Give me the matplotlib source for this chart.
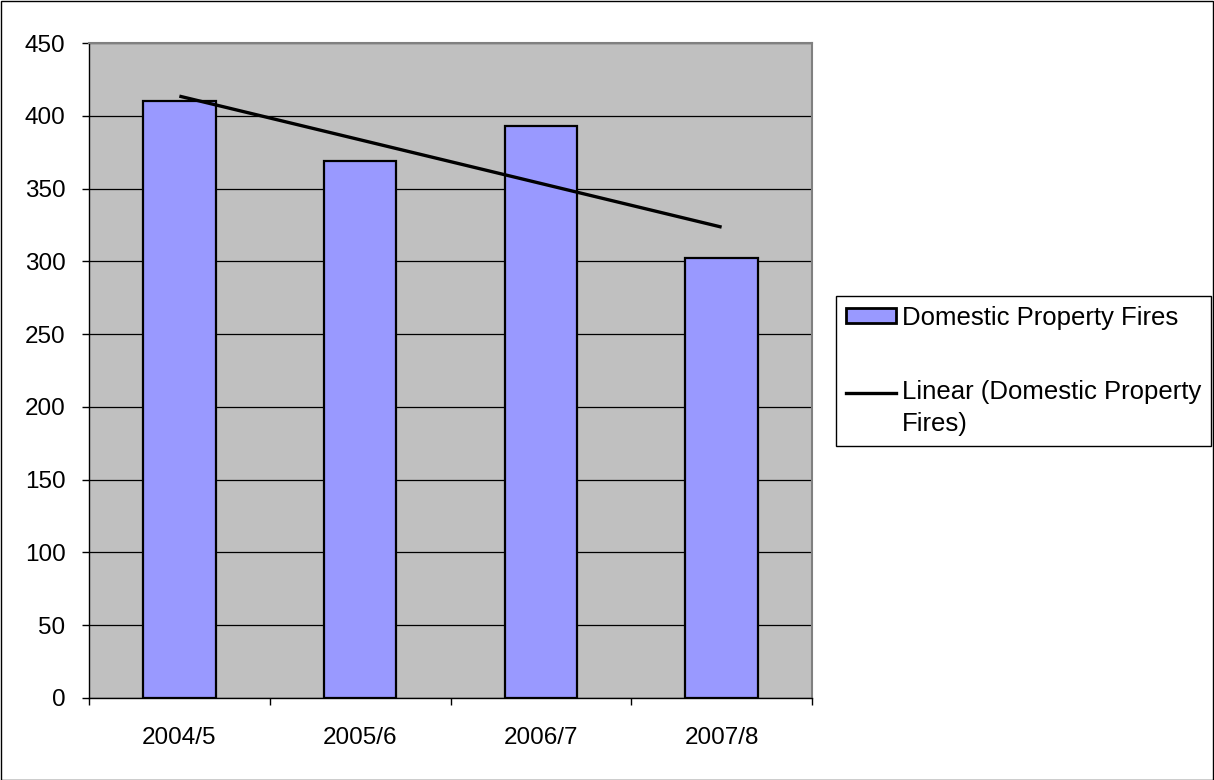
import numpy as np
import matplotlib
matplotlib.use("Agg")
import matplotlib.pyplot as plt
import matplotlib.transforms as mtransforms
from matplotlib.patches import Rectangle
from matplotlib.lines import Line2D
from matplotlib.legend_handler import HandlerLine2D

categories = ["2004/5", "2005/6", "2006/7", "2007/8"]
fires = [410, 369, 393, 302]
y_ticks = [0, 50, 100, 150, 200, 250, 300, 350, 400, 450]
bar_label = "Domestic Property Fires"
trend_label = "Linear (Domestic Property\nFires)"

plt.rcParams['font.family'] = ['Liberation Sans', 'DejaVu Sans']
FS = 17.5
LFS = 18.5
LSP = 1.42

W, H = 1214, 780
fig = plt.figure(figsize=(W / 100, H / 100), dpi=100)
ax = fig.add_axes([89 / W, 1 - 698 / H, (812 - 89) / W, (698 - 43) / H])
ax.set_facecolor('#C0C0C0')

x = np.arange(1, len(categories) + 1)
ax.set_axisbelow(True)
ax.yaxis.grid(True, color='black', linewidth=0.9)
ax.bar(x, fires, width=0.4, color='#9999FF', edgecolor='black', linewidth=1.6, zorder=2)

coef = np.polyfit(x, fires, 1)
ax.plot(x, np.polyval(coef, x), color='black', linewidth=2.4, zorder=3,
        solid_capstyle='butt')

ax.set_xlim(0.5, len(categories) + 0.5)
ax.set_ylim(0, 450)
ax.set_yticks(y_ticks)
ax.set_yticklabels([str(v) for v in y_ticks], fontsize=FS)
ax.tick_params(axis='y', length=5, width=1, pad=12, colors='black')

ax.set_xticks(np.arange(0.5, len(categories) + 1, 1))
ax.set_xticklabels([])
ax.set_xticks(x, minor=True)
ax.set_xticklabels(categories, minor=True, fontsize=FS)
ax.tick_params(axis='x', which='major', length=5, width=1)
ax.tick_params(axis='x', which='minor', length=0, pad=21)

for s in ['top', 'right']:
    ax.spines[s].set_color('#808080')
    ax.spines[s].set_linewidth(1.5)
for s in ['left', 'bottom']:
    ax.spines[s].set_color('black')
    ax.spines[s].set_linewidth(1)


class FirstLineHandler(HandlerLine2D):
    def create_artists(self, legend, orig_handle, xdescent, ydescent,
                       width, height, fontsize, trans):
        arts = super().create_artists(legend, orig_handle, xdescent, ydescent,
                                      width, height, fontsize, trans)
        shift = mtransforms.Affine2D().translate(0, 0.5 * 0.87 * LSP * fontsize)
        for a in arts:
            a.set_transform(shift + trans)
        return arts


handles = [Rectangle((0, 0), 1, 1, facecolor='#9999FF', edgecolor='black', linewidth=2),
           Line2D([0], [0], color='black', linewidth=2.4)]
leg = fig.legend(handles, [bar_label, trend_label], loc='upper left',
                 bbox_to_anchor=(836 / W, 1 - 296 / H), borderaxespad=0,
                 fontsize=LFS, frameon=True, fancybox=False, shadow=False,
                 handlelength=1.95, handleheight=0.54, handletextpad=0.25,
                 labelspacing=1.95, borderpad=0.38,
                 handler_map={Line2D: FirstLineHandler()})
for t in leg.get_texts():
    t.set_linespacing(LSP)
frame = leg.get_frame()
frame.set_edgecolor('black')
frame.set_linewidth(1)
frame.set_alpha(1)

fig.patches.append(Rectangle((0.5 / W, 0.5 / H), 1 - 1.5 / W, 1 - 1.5 / H,
                             transform=fig.transFigure, fill=False,
                             edgecolor='black', linewidth=1))

fig.savefig("out.png", dpi=100)
